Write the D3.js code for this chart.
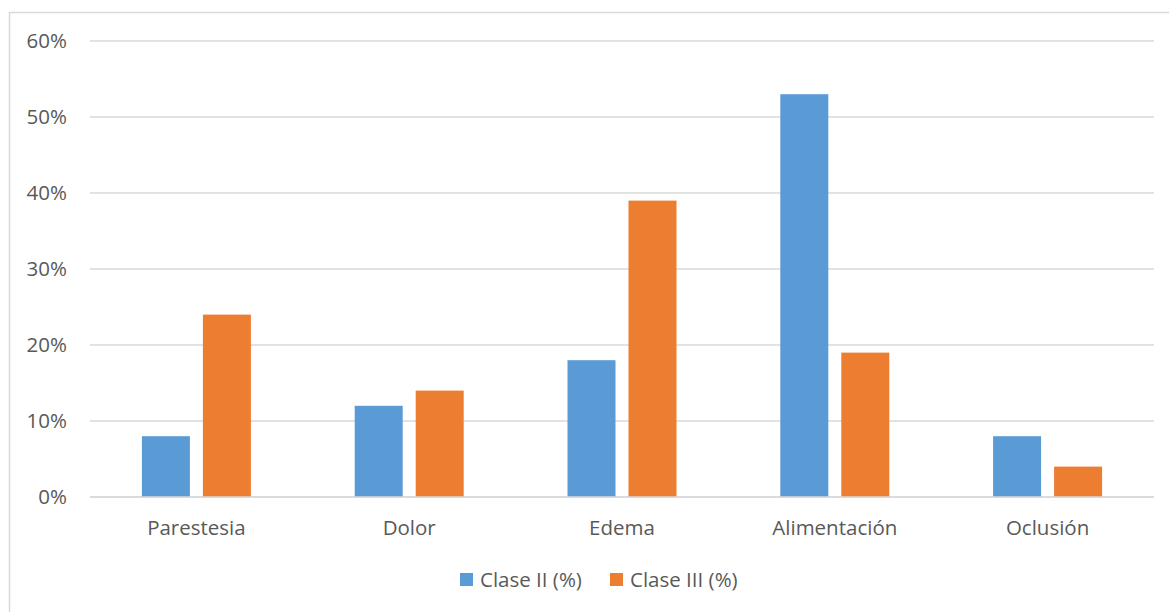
<!DOCTYPE html>
<html>
<head>
<meta charset="utf-8">
<script src="https://cdn.jsdelivr.net/npm/d3@7"></script>
<style>
  html, body { margin: 0; padding: 0; background: #fff; }
  svg { display: block; font-family: "Open Sans", "Liberation Sans", sans-serif; }
</style>
</head>
<body>
<svg id="chart" width="1169" height="612"></svg>
<script>
// Complications by malocclusion class (percent of patients)
const categories = ["Parestesia", "Dolor", "Edema", "Alimentación", "Oclusión"];
const seriesNames = ["Clase II (%)", "Clase III (%)"];
const claseII = [8, 12, 18, 53, 8];
const claseIII = [24, 14, 39, 19, 4];
const yTicks = [0, 10, 20, 30, 40, 50, 60];
const colors = ["#5B9BD5", "#ED7D31"];

const svg = d3.select("#chart");
const W = 1169, H = 612;
const plot = { left: 90, right: 1154, top: 41, bottom: 497 };
const fontSize = 20.5;

// outer chart frame
svg.append("rect")
  .attr("x", 9.5).attr("y", 12.5)
  .attr("width", W + 10).attr("height", H + 10)
  .attr("fill", "#fff").attr("stroke", "#d9d9d9").attr("stroke-width", 1.5);

const y = d3.scaleLinear().domain([0, 60]).range([plot.bottom, plot.top]);
const x0 = d3.scaleBand().domain(categories).range([plot.left, plot.right]).paddingInner(0).paddingOuter(0);
const groupW = 109;
const x1 = d3.scaleBand().domain(seriesNames).range([0, groupW]).paddingInner(13 / 61).paddingOuter(0);

// gridlines
svg.append("g")
  .selectAll("line").data(yTicks).join("line")
  .attr("x1", plot.left).attr("x2", plot.right)
  .attr("y1", d => y(d)).attr("y2", d => y(d))
  .attr("stroke", "#d9d9d9").attr("stroke-width", 1.5);

// y axis labels
const yAxis = d3.axisLeft(y).tickValues(yTicks).tickFormat(d => d + "%").tickSize(0).tickPadding(0);
const gy = svg.append("g").attr("transform", `translate(67,0)`).call(yAxis);
gy.select(".domain").remove();
gy.selectAll("text")
  .attr("fill", "#595959").attr("font-size", fontSize)
  .attr("font-family", "\"Open Sans\", sans-serif");

// category labels
const xAxis = d3.axisBottom(x0).tickSize(0).tickPadding(0);
const gx = svg.append("g").attr("transform", `translate(0,${plot.bottom + 23})`).call(xAxis);
gx.select(".domain").remove();
gx.selectAll("text")
  .attr("fill", "#595959").attr("font-size", fontSize)
  .attr("font-family", "\"Open Sans\", sans-serif");

// bars
const rows = categories.map((c, i) => ({ cat: c, vals: [claseII[i], claseIII[i]] }));
const groups = svg.append("g").selectAll("g").data(rows).join("g")
  .attr("transform", d => `translate(${x0(d.cat) + (x0.bandwidth() - groupW) / 2},0)`);
groups.selectAll("rect")
  .data(d => d.vals.map((v, j) => ({ name: seriesNames[j], v, j })))
  .join("rect")
  .attr("x", d => x1(d.name))
  .attr("width", x1.bandwidth())
  .attr("y", d => y(d.v))
  .attr("height", d => y(0) - y(d.v))
  .attr("fill", d => colors[d.j]);

// redraw baseline on top of bars
svg.append("line")
  .attr("x1", plot.left).attr("x2", plot.right)
  .attr("y1", y(0)).attr("y2", y(0))
  .attr("stroke", "#d9d9d9").attr("stroke-width", 1.5);

// legend
const legendX = [460, 610];
const legend = svg.append("g").selectAll("g").data(seriesNames).join("g")
  .attr("transform", (d, i) => `translate(${legendX[i]},573)`);
legend.append("rect").attr("width", 13).attr("height", 13)
  .attr("fill", (d, i) => colors[i]);
legend.append("text").attr("x", 20).attr("y", 6.5).attr("dy", "0.35em")
  .attr("fill", "#595959").attr("font-size", fontSize)
  .text(d => d);
</script>
</body>
</html>
